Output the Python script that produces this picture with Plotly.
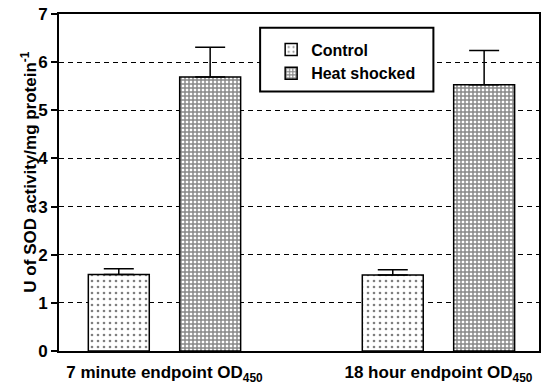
import plotly.graph_objects as go

# SOD activity per condition, mean and upper error
categories = ["7 minute endpoint OD<sub>450</sub>", "18 hour endpoint OD<sub>450</sub>"]
control_vals = [1.59, 1.58]
control_err = [0.12, 0.11]
heat_vals = [5.69, 5.53]
heat_err = [0.62, 0.71]
y_ticks = [0, 1, 2, 3, 4, 5, 6, 7]

FONT = "Liberation Sans, Arial, Helvetica, sans-serif"

fig = go.Figure()
fig.add_trace(go.Bar(
    name="Control", x=categories, y=control_vals, legendgroup="a",
    marker=dict(color="white", line=dict(color="black", width=1.5),
                pattern=dict(shape=".", fgcolor="black", bgcolor="white",
                             size=6, solidity=0.15)),
    error_y=dict(type="data", array=control_err, symmetric=False,
                 arrayminus=[0, 0], color="black", thickness=1.5, width=15),
))
fig.add_trace(go.Bar(
    name="Heat shocked", x=categories, y=heat_vals, legendgroup="b",
    marker=dict(color="white", line=dict(color="black", width=1.5),
                pattern=dict(shape="+", fgcolor="#111111", bgcolor="white",
                             size=4, solidity=0.6)),
    error_y=dict(type="data", array=heat_err, symmetric=False,
                 arrayminus=[0, 0], color="black", thickness=1.5, width=15),
))

# legend frame
fig.add_shape(type="rect", xref="paper", yref="paper",
              x0=0.419, x1=0.780, y0=0.770, y1=0.959,
              fillcolor="white", line=dict(color="black", width=2), layer="above")

fig.add_annotation(
    text="U of SOD activity/mg protein<sup>-1</sup>",
    xref="paper", yref="paper", x=-0.062, y=0.53, textangle=-90,
    xanchor="center", yanchor="middle",
    showarrow=False, font=dict(family=FONT, size=17, color="black", weight="bold"),
)

fig.update_layout(
    width=545, height=389,
    margin=dict(l=59, r=4, t=14, b=32),
    paper_bgcolor="white", plot_bgcolor="white",
    barmode="group", bargap=0.333, bargroupgap=0.333,
    font=dict(family=FONT, color="black"),
    showlegend=True,
    legend=dict(x=0.442, y=0.945, xanchor="left", yanchor="top",
                bgcolor="rgba(0,0,0,0)", borderwidth=0,
                traceorder="grouped", tracegroupgap=0,
                font=dict(family=FONT, size=16, color="black", weight="bold")),
    xaxis=dict(range=[-0.385, 1.367], showline=True, linecolor="black",
               linewidth=2, mirror=True, ticks="", showgrid=False,
               tickfont=dict(family=FONT, size=17, color="black", weight="bold"),
               ticklabelstandoff=5),
    yaxis=dict(range=[0, 7], tickvals=y_ticks, showline=True, linecolor="black",
               linewidth=2, mirror=True, ticks="outside", ticklen=6, tickwidth=2,
               tickcolor="black", showgrid=True, gridcolor="black", gridwidth=1,
               griddash="5px,4px", zeroline=False,
               tickfont=dict(family=FONT, size=17, color="black", weight="bold")),
)

fig.write_html("out.html")
